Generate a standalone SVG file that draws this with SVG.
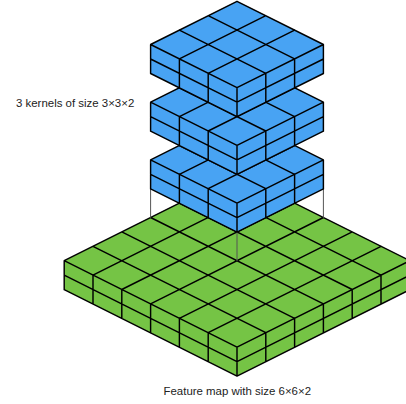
<svg xmlns="http://www.w3.org/2000/svg" width="406" height="404" viewBox="0 0 406 404">
<style>
.edge{fill:none;stroke:#000;stroke-width:1.45;stroke-linejoin:round;stroke-linecap:round}
.guide{fill:none;stroke:#555;stroke-width:1}
.blue{fill:#48a3f3}
.green{fill:#75c445}
text{font-family:"Liberation Sans",Arial,sans-serif;font-size:11.45px;fill:#222}
</style>
<defs>
<g id="kernel">
<path class="blue" d="M0 0L86.4 43.2V72.2L0 115.4L-86.4 72.2V43.2Z"/>
<path class="edge" d="M0 0L86.4 43.2L0 86.4L-86.4 43.2ZM28.8 14.4L-57.6 57.6M57.6 28.8L-28.8 72M-28.8 14.4L57.6 57.6M-57.6 28.8L28.8 72M-86.4 43.2V72.2L0 115.4L86.4 72.2V43.2M-57.6 57.6V86.6M-28.8 72V101M0 86.4V115.4M28.8 72V101M57.6 57.6V86.6M-86.4 57.7L0 100.9L86.4 57.7"/>
</g>
</defs>
<g id="feature-map">
<path class="green" d="M0 0L172.8 86.4V115.4L0 201.8L-172.8 115.4V86.4Z" transform="translate(237 174.3)"/>
<path class="edge" transform="translate(237 174.3)" d="M0 0L172.8 86.4L0 172.8L-172.8 86.4ZM28.8 14.4L-144 100.8M57.6 28.8L-115.2 115.2M86.4 43.2L-86.4 129.6M115.2 57.6L-57.6 144M144 72L-28.8 158.4M-28.8 14.4L144 100.8M-57.6 28.8L115.2 115.2M-86.4 43.2L86.4 129.6M-115.2 57.6L57.6 144M-144 72L28.8 158.4M-172.8 86.4V115.4L0 201.8L172.8 115.4V86.4M-144 100.8V129.8M-115.2 115.2V144.2M-86.4 129.6V158.6M-57.6 144V173M-28.8 158.4V187.4M0 172.8V201.8M28.8 158.4V187.4M57.6 144V173M86.4 129.6V158.6M115.2 115.2V144.2M144 100.8V129.8M-172.8 100.9L0 187.3L172.8 100.9"/>
</g>
<g id="connectors">
<path class="guide" d="M150.6 188V217.8M323.4 188V217.8M237 231V261"/>
</g>
<g id="kernel-3"><use href="#kernel" x="237" y="116.7"/></g>
<g id="kernel-2"><use href="#kernel" x="237" y="59"/></g>
<g id="kernel-1"><use href="#kernel" x="237" y="1.3"/></g>
<g id="label-kernels"><text x="16" y="107">3 kernels of size 3×3×2</text></g>
<g id="label-feature-map"><text x="163.5" y="395">Feature map with size 6×6×2</text></g>
</svg>
